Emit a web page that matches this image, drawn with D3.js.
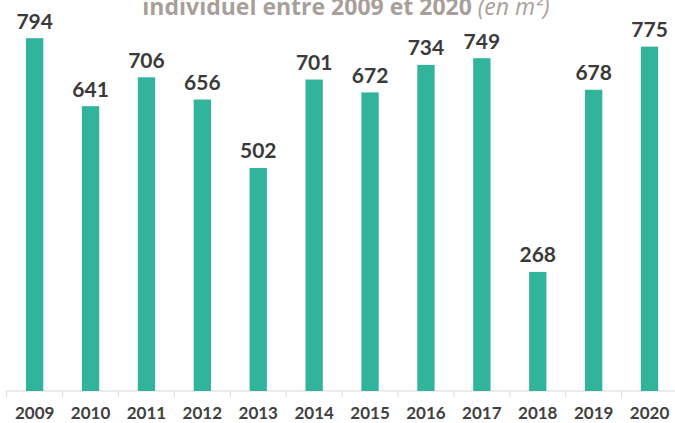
<!DOCTYPE html>
<html>
<head>
<meta charset="utf-8">
<script src="https://cdn.jsdelivr.net/npm/d3@7"></script>
<style>
  body { margin: 0; background: #fff; }
  #chart { width: 675px; height: 423px; overflow: hidden; }
</style>
</head>
<body>
<div id="chart"></div>
<script>
const years = ["2009", "2010", "2011", "2012", "2013", "2014", "2015", "2016", "2017", "2018", "2019", "2020"];
const surfaces = [794, 641, 706, 656, 502, 701, 672, 734, 749, 268, 678, 775];
const titleMain = "individuel entre 2009 et 2020 ";
const titleUnit = "(en m²)";

function drawSurfaceChart(containerId) {
  const width = 675;
  const height = 423;
  const baseY = 391;

  const svg = d3.select(`#${containerId}`)
    .append("svg")
    .attr("width", width)
    .attr("height", height);

  const data = years.map((y, i) => ({ year: y, value: surfaces[i] }));

  const x = d3.scaleBand()
    .domain(years)
    .range([6.7, 677.5])
    .paddingInner(0.69)
    .paddingOuter(0.345);

  const y = d3.scaleLinear().domain([0, 880]).range([baseY, 0]);

  // title, its upper part is cut off like in the source image
  const title = svg.append("text")
    .attr("x", 346)
    .attr("y", 15)
    .attr("text-anchor", "middle")
    .style("font-family", "'Open Sans', sans-serif")
    .style("font-size", "23px")
    .style("fill", "#a89f9a");
  title.append("tspan").style("font-weight", "bold").text(titleMain);
  title.append("tspan").style("font-style", "italic").text(titleUnit);

  // axis
  const xAxis = svg.append("g")
    .attr("transform", `translate(0, ${baseY})`);

  xAxis.append("line")
    .attr("x1", 6.7).attr("x2", width)
    .attr("y1", 0).attr("y2", 0)
    .style("stroke", "#d9d9d9")
    .style("stroke-width", 1);

  const step = x.step();
  const edges = d3.range(years.length + 1).map(i => 6.7 + i * step);
  xAxis.selectAll("line.tick")
    .data(edges)
    .join("line")
    .attr("class", "tick")
    .attr("x1", d => d).attr("x2", d => d)
    .attr("y1", 0).attr("y2", 6)
    .style("stroke", "#d9d9d9")
    .style("stroke-width", 1);

  xAxis.selectAll("text")
    .data(years)
    .join("text")
    .attr("x", d => x(d) + x.bandwidth() / 2)
    .attr("y", 28)
    .attr("text-anchor", "middle")
    .style("font-family", "Lato, sans-serif")
    .style("font-weight", "bold")
    .style("font-size", "17px")
    .style("fill", "#404040")
    .text(d => d);

  // bars
  svg.selectAll("rect.bar")
    .data(data)
    .join("rect")
    .attr("class", "bar")
    .attr("x", d => x(d.year))
    .attr("y", d => y(d.value))
    .attr("width", x.bandwidth())
    .attr("height", d => baseY - y(d.value))
    .style("fill", "#31b49b");

  // value labels
  svg.selectAll("text.val")
    .data(data)
    .join("text")
    .attr("class", "val")
    .attr("x", d => x(d.year) + x.bandwidth() / 2)
    .attr("y", d => y(d.value) - 9.5)
    .attr("text-anchor", "middle")
    .style("font-family", "Lato, sans-serif")
    .style("font-weight", "bold")
    .style("font-size", "21px")
    .style("fill", "#3a3a3a")
    .text(d => d.value);
}

drawSurfaceChart("chart");
</script>
</body>
</html>
